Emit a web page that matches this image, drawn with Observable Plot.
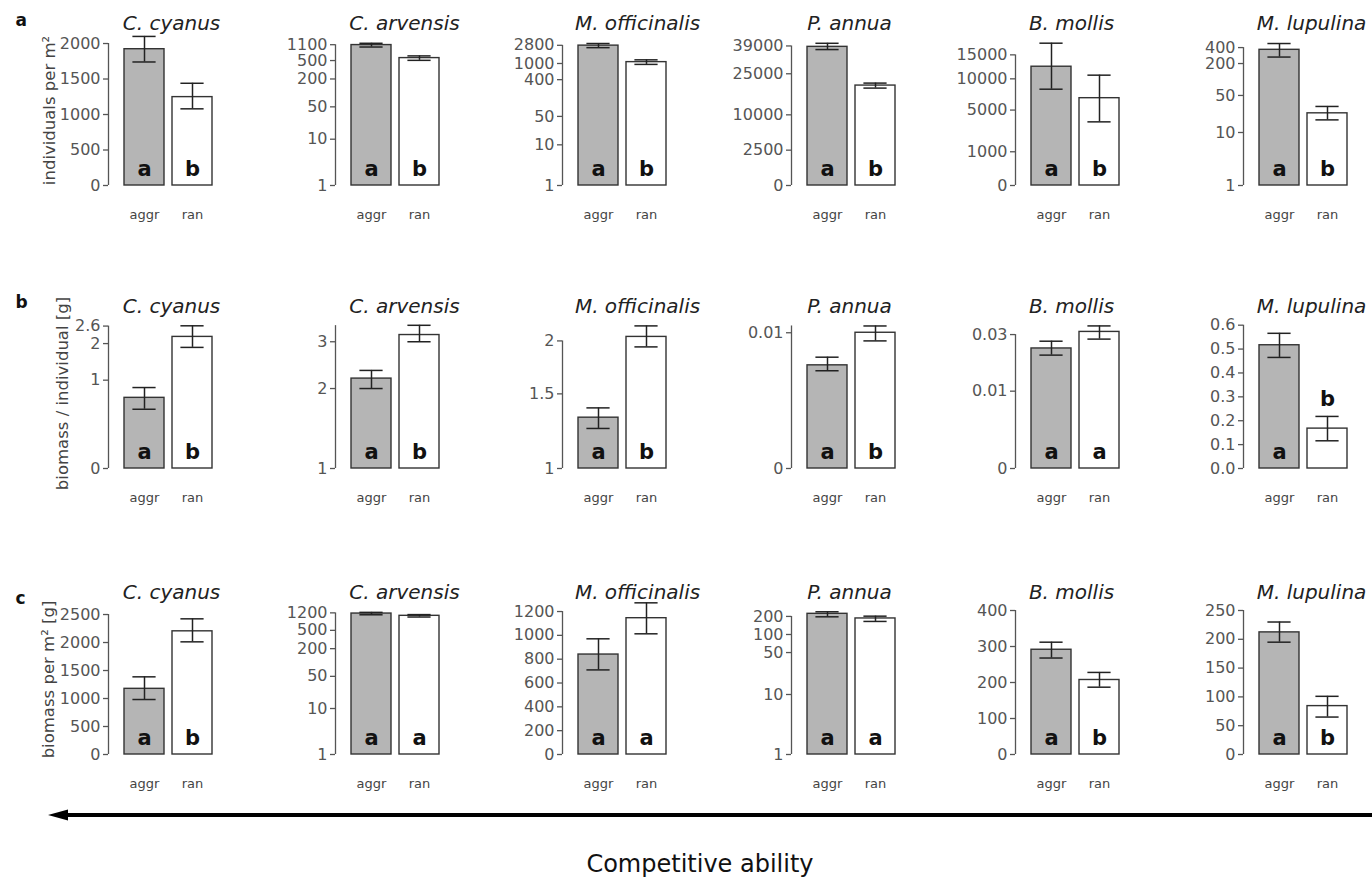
<!DOCTYPE html>
<html><head><meta charset="utf-8">
<script src="https://cdn.jsdelivr.net/npm/d3@7"></script>
<script src="https://cdn.jsdelivr.net/npm/@observablehq/plot@0.6"></script>
<style>
body{margin:0;background:#fff;}
#chart{position:relative;width:1372px;height:885px;background:#fff;overflow:hidden;font-family:"DejaVu Sans",sans-serif;}
.panel{position:absolute;}
.panel svg{overflow:visible;background:transparent;}
#caption{position:absolute;left:14px;top:852px;width:1372px;text-align:center;font-size:24px;line-height:1;color:#111;}
#arrow{position:absolute;left:0;top:800px;}
</style></head><body><div id="chart"></div>
<script>
// ---------- categories / labels ----------
const species = ["C. cyanus", "C. arvensis", "M. officinalis", "P. annua", "B. mollis", "M. lupulina"];
const treatments = ["aggr", "ran"];
const rowLetters = ["a", "b", "c"];
const yTitles = ["individuals per m²", "biomass / individual [g]", "biomass per m² [g]"];

// ---------- row a: individuals per m² ----------
const indivAggr   = [1920, 1080, 2750, 38500, 12400, 363];
const indivAggrLo = [1740,  980, 2450, 37000,  8150, 265];
const indivAggrHi = [2100, 1180, 3100, 40500, 17800, 477];
const indivRan    = [1245,  565, 1080, 20000,  6700, 23];
const indivRanLo  = [1080,  505,  950, 19000,  3560, 17.3];
const indivRanHi  = [1440,  630, 1230, 21000, 10700, 31];
const indivSigAggr = ["a", "a", "a", "a", "a", "a"];
const indivSigRan  = ["b", "b", "b", "b", "b", "b"];
const indivScale = ["linear", "log", "log", "sqrt", "sqrt", "log"];
const indivMax = [2113, 1738, 4878, 45060, 19775, 676];
const indivTicks = [
  ["0", "500", "1000", "1500", "2000"],
  ["1", "10", "50", "200", "500", "1100"],
  ["1", "10", "50", "400", "1000", "2800"],
  ["0", "2500", "10000", "25000", "39000"],
  ["0", "1000", "5000", "10000", "15000"],
  ["1", "10", "50", "200", "400"]
];
const indivAxisTop = [2000, 1100, 2800, 39000, 15000, 400];

// ---------- row b: biomass / individual [g] ----------
const massIndAggr   = [0.64, 2.18, 1.318, 0.0076, 0.0241, 0.516];
const massIndAggrLo = [0.45, 2.00, 1.243, 0.0072, 0.0215, 0.465];
const massIndAggrHi = [0.84, 2.34, 1.390, 0.0082, 0.0271, 0.566];
const massIndRan    = [2.22, 3.18, 2.044, 0.0100, 0.0312, 0.167];
const massIndRanLo  = [1.88, 3.00, 1.936, 0.0094, 0.0280, 0.116];
const massIndRanHi  = [2.61, 3.46, 2.170, 0.0105, 0.0340, 0.218];
const massIndSigAggr = ["a", "a", "a", "a", "a", "a"];
const massIndSigRan  = ["b", "b", "b", "b", "a", "b"];
const massIndScale = ["sqrt", "log", "log", "linear", "sqrt", "linear"];
const massIndMax = [2.884, 3.67, 2.259, 0.01105, 0.03763, 0.628];
const massIndTicks = [
  ["0", "1", "2", "2.6"],
  ["1", "2", "3"],
  ["1", "1.5", "2"],
  ["0", "0.01"],
  ["0", "0.01", "0.03"],
  ["0.0", "0.1", "0.2", "0.3", "0.4", "0.5", "0.6"]
];
const massIndAxisTop = [2.6, 3.45, 2, 0.0105, 0.03, 0.6];

// ---------- row c: biomass per m² [g] ----------
const massAreaAggr   = [1173, 1160,  839, 221, 291, 212];
const massAreaAggrLo = [ 982, 1090,  710, 197, 268, 195];
const massAreaAggrHi = [1387, 1230,  971, 239, 312, 230];
const massAreaRan    = [2200, 1035, 1144, 185, 207, 84];
const massAreaRanLo  = [2012,  975, 1013, 165, 187, 65];
const massAreaRanHi  = [2423, 1100, 1273, 202, 228, 101];
const massAreaSigAggr = ["a", "a", "a", "a", "a", "a"];
const massAreaSigRan  = ["b", "a", "a", "a", "b", "b"];
const massAreaScale = ["linear", "log", "linear", "log", "linear", "linear"];
const massAreaMax = [2679, 1824, 1259, 316, 416.7, 260.4];
const massAreaTicks = [
  ["0", "500", "1000", "1500", "2000", "2500"],
  ["1", "10", "50", "200", "500", "1200"],
  ["0", "200", "400", "600", "800", "1000", "1200"],
  ["1", "10", "50", "100", "200"],
  ["0", "100", "200", "300", "400"],
  ["0", "50", "100", "150", "200", "250"]
];
const massAreaAxisTop = [2500, 1200, 1200, 200, 400, 250];

// ---------- layout (not data) ----------
const colAxisX = [108, 335, 562, 791, 1015, 1243];
const rowTop = [0, 283, 569];
const titleShift = [3, 9, 15, -2, -4, 8];
const yTitleDx = [-59, -46, -60];
const rowLabelDy = [-10, -11, -1];
const W = 227, H = 230, ML = 100, MT = 35, MB = 45;
const XMIN = -0.2, PX = 40; // bar units: 1 unit = 40 px

const rows = [
  {aggr: indivAggr, aggrLo: indivAggrLo, aggrHi: indivAggrHi, ran: indivRan, ranLo: indivRanLo, ranHi: indivRanHi,
   sigA: indivSigAggr, sigR: indivSigRan, scale: indivScale, max: indivMax, ticks: indivTicks, axisTop: indivAxisTop},
  {aggr: massIndAggr, aggrLo: massIndAggrLo, aggrHi: massIndAggrHi, ran: massIndRan, ranLo: massIndRanLo, ranHi: massIndRanHi,
   sigA: massIndSigAggr, sigR: massIndSigRan, scale: massIndScale, max: massIndMax, ticks: massIndTicks, axisTop: massIndAxisTop},
  {aggr: massAreaAggr, aggrLo: massAreaAggrLo, aggrHi: massAreaAggrHi, ran: massAreaRan, ranLo: massAreaRanLo, ranHi: massAreaRanHi,
   sigA: massAreaSigAggr, sigR: massAreaSigRan, scale: massAreaScale, max: massAreaMax, ticks: massAreaTicks, axisTop: massAreaAxisTop}
];

const chart = document.getElementById("chart");

function panel(r, c) {
  const R = rows[r];
  const type = R.scale[c];
  const base = type === "log" ? 1 : 0;
  const tickVals = R.ticks[c].map(Number);
  const tickLabel = new Map(R.ticks[c].map(s => [Number(s), s]));
  const yScale = Plot.scale({y: {type, domain: [base, R.max[c]], range: [H - MB, MT]}});
  const bars = treatments.map((t, i) => {
    const v = i === 0 ? R.aggr[c] : R.ran[c];
    const d = {
      t, base,
      x1: 0.2 + i * 1.2, x2: 1.2 + i * 1.2, xc: 0.7 + i * 1.2,
      v,
      lo: i === 0 ? R.aggrLo[c] : R.ranLo[c],
      hi: i === 0 ? R.aggrHi[c] : R.ranHi[c],
      sig: i === 0 ? R.sigA[c] : R.sigR[c],
      fill: i === 0 ? "#b5b5b5" : "#ffffff"
    };
    d.above = (yScale.apply(base) - yScale.apply(v)) < 44;
    return d;
  });
  const marks = [
    Plot.rectY(bars, {x1: "x1", x2: "x2", y1: "base", y2: "v", fill: "fill", stroke: "#333", strokeWidth: 1.4}),
    Plot.ruleX(bars, {x: "xc", y1: "lo", y2: "hi", stroke: "#222", strokeWidth: 1.5}),
    Plot.ruleY(bars, {y: "hi", x1: d => d.xc - 0.29, x2: d => d.xc + 0.29, stroke: "#222", strokeWidth: 1.5}),
    Plot.ruleY(bars, {y: "lo", x1: d => d.xc - 0.29, x2: d => d.xc + 0.29, stroke: "#222", strokeWidth: 1.5}),
    Plot.text(bars.filter(d => !d.above), {x: "xc", y: "base", text: "sig", dy: -16, fontSize: 21, fontWeight: "bold", fill: "#111"}),
    Plot.text(bars.filter(d => d.above), {x: "xc", y: "hi", text: "sig", dy: -17, fontSize: 21, fontWeight: "bold", fill: "#111"}),
    // R-style y axis: line spans first..last tick, ticks point outward
    Plot.ruleX([{x: XMIN, y1: base, y2: R.axisTop[c]}], {x: "x", y1: "y1", y2: "y2", stroke: "#555", strokeWidth: 1.3}),
    Plot.ruleY(tickVals, {y: d => d, x1: () => XMIN - 5 / PX, x2: () => XMIN, stroke: "#555", strokeWidth: 1.3}),
    Plot.text(tickVals, {y: d => d, text: d => tickLabel.get(d), frameAnchor: "left", dx: -8, textAnchor: "end", fontSize: 16, fill: "#555"}),
    Plot.text(bars, {x: "xc", text: "t", frameAnchor: "bottom", dy: 33, fontSize: 13, fill: "#444"}),
    Plot.text([{x: 1.3, name: species[c]}], {x: "x", text: "name", frameAnchor: "top", dx: titleShift[c], dy: -6, lineAnchor: "bottom", fontSize: 20, fontStyle: "italic", fill: "#222"})
  ];
  if (c === 0) {
    marks.push(Plot.text([yTitles[r]], {text: d => d, frameAnchor: "left", dx: yTitleDx[r], rotate: -90, textAnchor: "middle", fontSize: 16.5, fill: "#444"}));
    marks.push(Plot.text([rowLetters[r]], {text: d => d, frameAnchor: "top-left", dx: -93, dy: rowLabelDy[r], textAnchor: "start", lineAnchor: "bottom", fontSize: 17, fontWeight: "bold", fill: "#111"}));
  }
  const svg = Plot.plot({
    width: W, height: H,
    marginLeft: ML, marginRight: W - ML - 112, marginTop: MT, marginBottom: MB,
    x: {domain: [XMIN, 2.6], axis: null},
    y: {type, domain: [base, R.max[c]], axis: null},
    color: {type: "identity"},
    style: {fontFamily: "DejaVu Sans, sans-serif", background: "transparent", overflow: "visible"},
    marks
  });
  const div = document.createElement("div");
  div.className = "panel";
  div.style.left = (colAxisX[c] - ML) + "px";
  div.style.top = rowTop[r] + "px";
  div.appendChild(svg);
  chart.appendChild(div);
}

for (let r = 0; r < 3; r++) for (let c = 0; c < 6; c++) panel(r, c);

// arrow + caption (decoration)
const ns = "http://www.w3.org/2000/svg";
const arrow = document.createElementNS(ns, "svg");
arrow.setAttribute("id", "arrow");
arrow.setAttribute("width", "1372");
arrow.setAttribute("height", "30");
arrow.innerHTML = '<line x1="62" y1="15" x2="1372" y2="15" stroke="#000" stroke-width="3.8"/><polygon points="48,15 68,9.5 68,20.5" fill="#000"/>';
chart.appendChild(arrow);
const cap = document.createElement("div");
cap.id = "caption";
cap.textContent = "Competitive ability";
chart.appendChild(cap);
</script>
</body></html>
